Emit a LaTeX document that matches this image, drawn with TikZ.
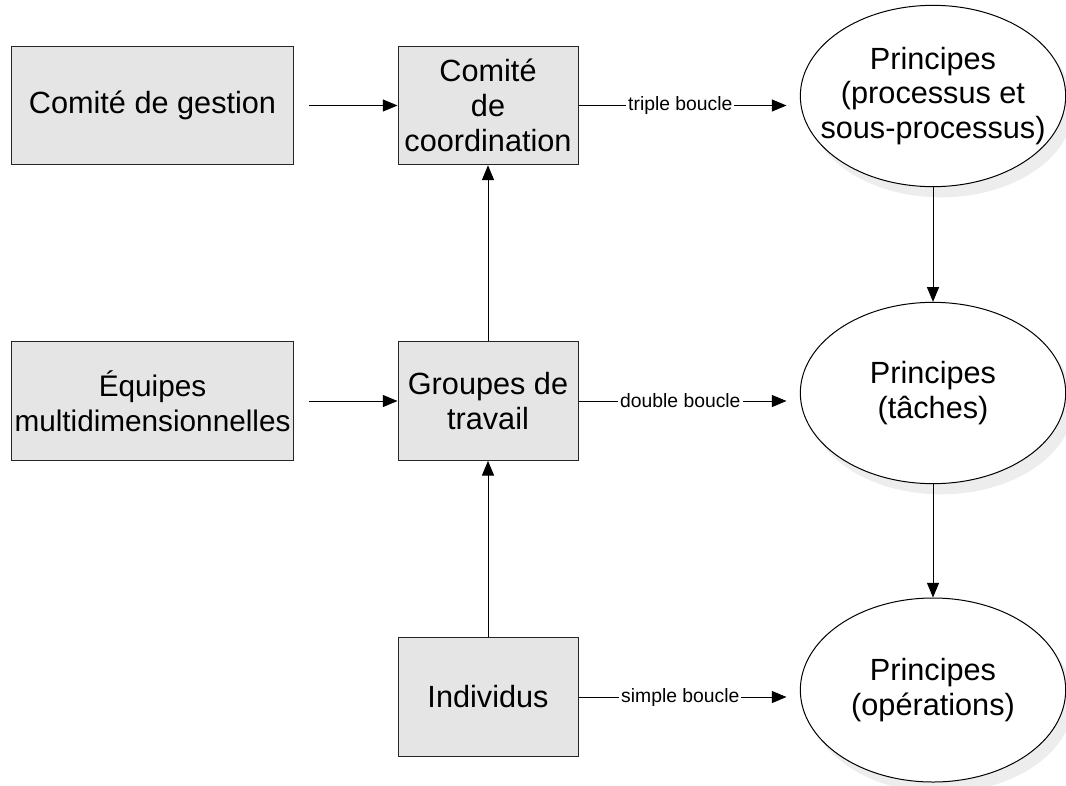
\documentclass[tikz,border=0pt]{standalone}
\usepackage{fontspec}
\setmainfont{Liberation Sans}
\usetikzlibrary{arrows.meta,shapes.geometric,shadows}

\begin{document}
\begin{tikzpicture}[x=0.75pt,y=-0.75pt,
    box/.style={draw=black!85,fill=black!10,line width=0.75pt,minimum height=89pt,
        inner sep=0pt,align=center,font=\fontsize{23}{26}\selectfont},
    principe/.style={ellipse,draw,fill=white,line width=0.75pt,minimum width=199pt,
        minimum height=136pt,inner sep=0pt,
        drop shadow={shadow xshift=6pt,shadow yshift=-8pt,fill=black!7,opacity=1}},
    texte/.style={align=center,inner sep=0pt,font=\fontsize{23}{26}\selectfont},
    fleche/.style={-{Triangle[length=11pt,width=9pt]},line width=0.75pt},
    boucle/.style={pos=0.46,fill=white,inner sep=1.5pt,font=\fontsize{14.5}{16}\selectfont}]
    \useasboundingbox (0,0) rectangle (1066,785);

    % left column
    \node[box,minimum width=212pt] (gestion) at (152.5,105.5) {Comité de gestion};
    \node[box,minimum width=212pt,font=\fontsize{22.3}{26}\selectfont] (equipes) at (152.5,401) {Équipes\\multidimensionnelles};

    % middle column
    \node[box,minimum width=135pt] (coord) at (488,105.5) {Comité\\de\\coordination};
    \node[box,minimum width=135pt] (groupes) at (488,401) {Groupes de\\travail};
    \node[box,minimum width=135pt] (individus) at (488,697) {Individus};

    % principes
    \node[principe,label={[texte]center:{Principes\\(processus et\\sous-processus)}}] (proc) at (933,96) {};
    \node[principe,label={[texte]center:{Principes\\(tâches)}}] (taches) at (933,393) {};
    \node[principe,minimum height=138pt,label={[texte]center:{Principes\\(opérations)}}] (oper) at (933,690) {};

    \draw[fleche,shorten <=11pt] (gestion) -- (coord);
    \draw[fleche,shorten <=11pt] (equipes) -- (groupes);
    \draw[fleche] (groupes) -- (coord);
    \draw[fleche] (individus) -- (groupes);

    \draw[fleche,shorten >=10pt] (coord.east) -- node[boucle] {triple boucle} (coord.east -| proc.west);
    \draw[fleche,shorten >=10pt] (groupes.east) -- node[boucle] {double boucle} (groupes.east -| taches.west);
    \draw[fleche,shorten >=10pt] (individus.east) -- node[boucle] {simple boucle} (individus.east -| oper.west);

    \draw[fleche] (proc) -- (taches);
    \draw[fleche] (taches) -- (oper);

\end{tikzpicture}
\end{document}
